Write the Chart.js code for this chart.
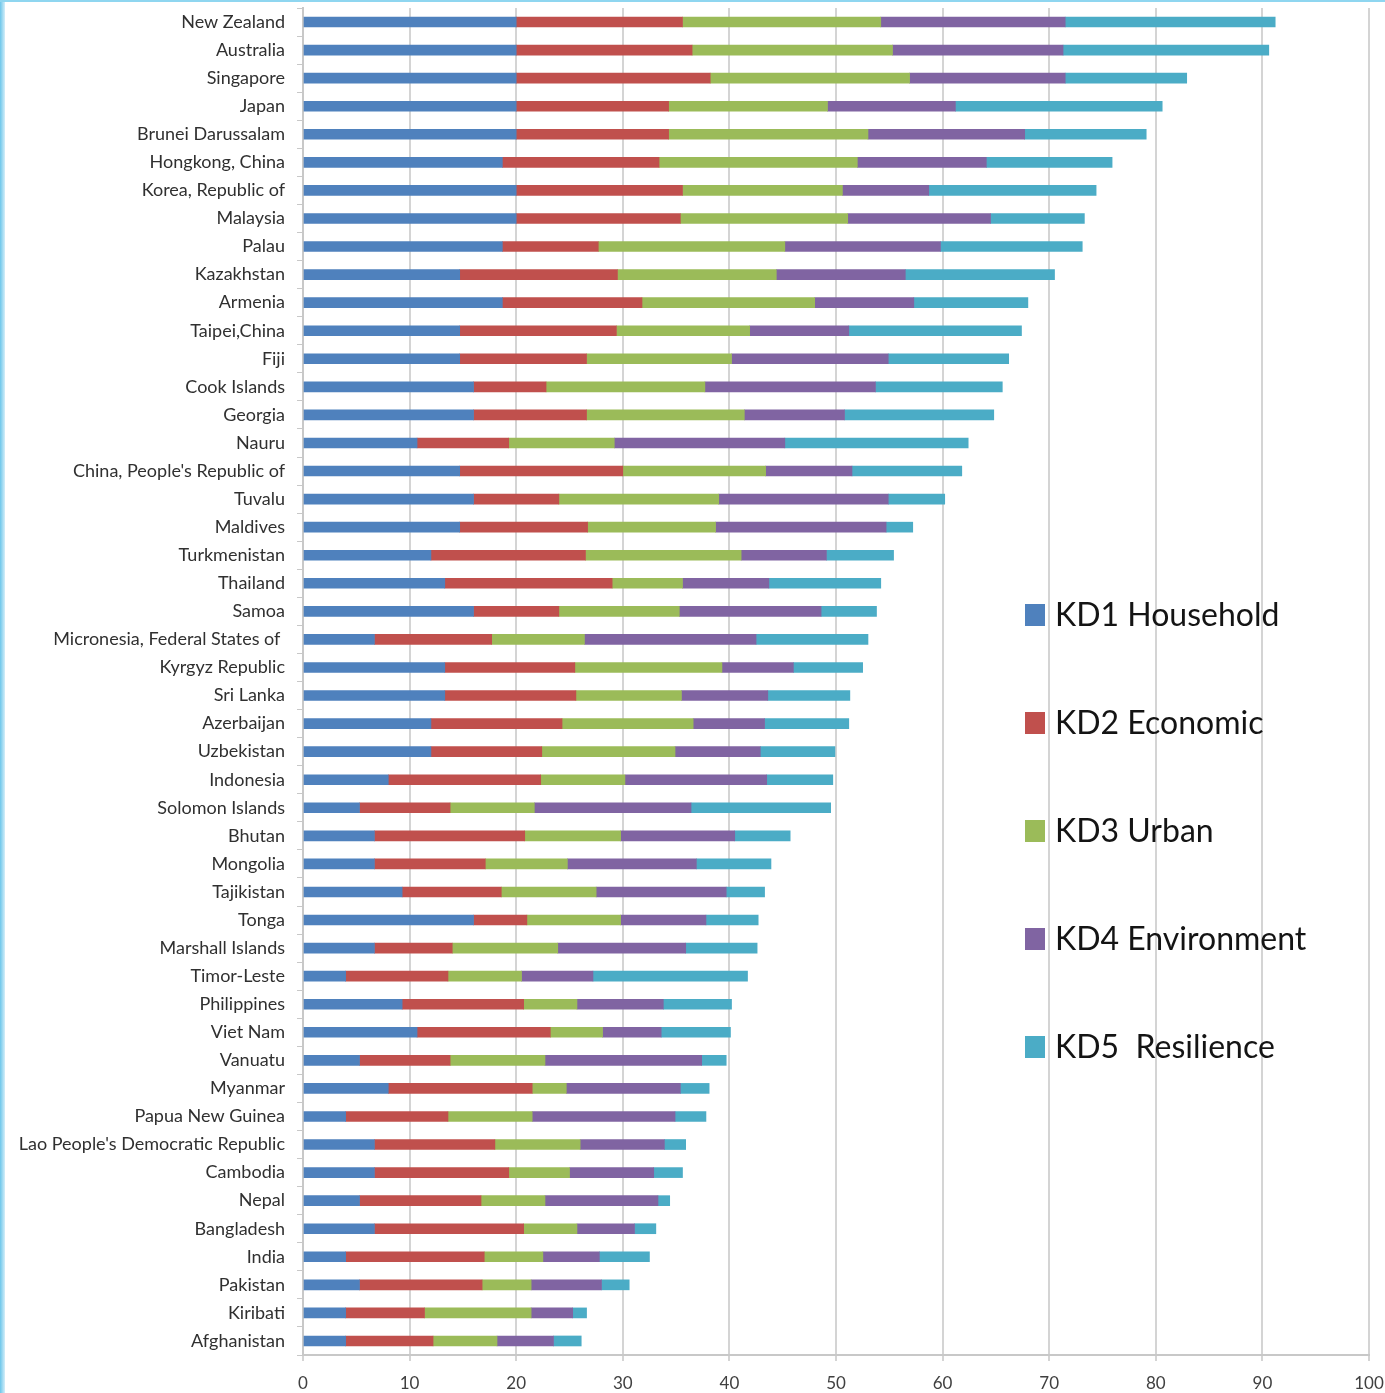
<!DOCTYPE html>
<html>
<head>
<meta charset="utf-8">
<script src="https://cdn.jsdelivr.net/npm/chart.js@4.4.1/dist/chart.umd.min.js"></script>
<style>
  html, body { margin:0; padding:0; background:#fff; }
  #wrap { position:relative; width:1385px; height:1393px; overflow:hidden; }
  #wrap:before { content:''; position:absolute; left:0; top:0; bottom:0; width:5px;
    background:linear-gradient(to right, #6cc6ea, #d4eef9); z-index:2; }
  #wrap:after { content:''; position:absolute; left:0; top:0; right:0; height:2px; background:#8fd6f0; z-index:2; }
  canvas { display:block; }
</style>
</head>
<body>
<div id="wrap"><canvas id="chart" width="1385" height="1393"></canvas></div>
<script>
const countries = ['New Zealand','Australia','Singapore','Japan','Brunei Darussalam','Hongkong, China',
  'Korea, Republic of','Malaysia','Palau','Kazakhstan','Armenia','Taipei,China','Fiji','Cook Islands',
  'Georgia','Nauru',"China, People's Republic of",'Tuvalu','Maldives','Turkmenistan','Thailand','Samoa',
  'Micronesia, Federal States of ','Kyrgyz Republic','Sri Lanka','Azerbaijan','Uzbekistan','Indonesia',
  'Solomon Islands','Bhutan','Mongolia','Tajikistan','Tonga','Marshall Islands','Timor-Leste','Philippines',
  'Viet Nam','Vanuatu','Myanmar','Papua New Guinea',"Lao People's Democratic Republic",'Cambodia','Nepal',
  'Bangladesh','India','Pakistan','Kiribati','Afghanistan'];

const kd1 = [20,20,20,20,20,18.7,20,20,18.7,14.7,18.7,14.7,14.7,16,16,10.7,14.7,16,14.7,12,13.3,16,
  6.7,13.3,13.3,12,12,8,5.3,6.7,6.7,9.3,16,6.7,4,9.3,10.7,5.3,8,4,6.7,6.7,5.3,6.7,4,5.3,4,4];
const kd2 = [15.6,16.5,18.2,14.3,14.3,14.7,15.6,15.4,9,14.8,13.1,14.7,11.9,6.8,10.6,8.6,15.3,8,12,14.5,15.7,8,
  11,12.2,12.3,12.3,10.4,14.3,8.5,14.1,10.4,9.3,5,7.3,9.6,11.4,12.5,8.5,13.5,9.6,11.3,12.6,11.4,14,13,11.5,7.4,8.2];
const kd3 = [18.6,18.8,18.7,14.9,18.7,18.6,15,15.7,17.5,14.9,16.2,12.5,13.6,14.9,14.8,9.9,13.4,15,12,14.6,6.6,11.3,
  8.7,13.8,9.9,12.3,12.5,7.9,7.9,9,7.7,8.9,8.8,9.9,6.9,5,4.9,8.9,3.2,7.9,8,5.7,6,5,5.5,4.6,10,6];
const kd4 = [17.3,16,14.6,12,14.7,12.1,8.1,13.4,14.6,12.1,9.3,9.3,14.7,16,9.4,16,8.1,15.9,16,8,8.1,13.3,
  16.1,6.7,8.1,6.7,8,13.3,14.7,10.7,12.1,12.2,8,12,6.7,8.1,5.5,14.7,10.7,13.4,7.9,7.9,10.6,5.4,5.3,6.6,3.9,5.3];
const kd5 = [19.7,19.3,11.4,19.4,11.4,11.8,15.7,8.8,13.3,14,10.7,16.2,11.3,11.9,14,17.2,10.3,5.3,2.5,6.3,10.5,5.2,
  10.5,6.5,7.7,7.9,7,6.2,13.1,5.2,7,3.6,4.9,6.7,14.5,6.4,6.5,2.3,2.7,2.9,2,2.7,1.1,2,4.7,2.6,1.3,2.6];

const seriesNames = ['KD1 Household','KD2 Economic','KD3 Urban','KD4 Environment','KD5  Resilience'];
const seriesColors = ['#4F81BD','#C0504D','#9BBB59','#8064A2','#4BACC6'];
const xTicks = [0,10,20,30,40,50,60,70,80,90,100];

const FONT = 'Lato, "Open Sans", sans-serif';

// legend inside the plot, right side
const sideLegend = {
  id: 'sideLegend',
  afterDraw(chart) {
    const ctx = chart.ctx;
    ctx.save();
    ctx.font = '32px ' + FONT;
    ctx.textBaseline = 'middle';
    chart.data.datasets.forEach((ds, i) => {
      const y = 615 + i * 108;
      ctx.fillStyle = ds.backgroundColor;
      ctx.fillRect(1025, y - 11, 20, 22);
      ctx.fillStyle = '#141414';
      ctx.fillText(ds.label, 1055, y + 1);
    });
    ctx.restore();
  }
};

const series = [kd1, kd2, kd3, kd4, kd5];

new Chart(document.getElementById('chart'), {
  type: 'bar',
  data: {
    labels: countries,
    datasets: series.map((d, i) => ({
      label: seriesNames[i],
      data: d,
      backgroundColor: seriesColors[i],
      barThickness: 10
    }))
  },
  options: {
    indexAxis: 'y',
    responsive: false,
    animation: false,
    layout: { padding: { top: 8, left: 0, right: 16, bottom: 0 } },
    plugins: { legend: { display: false }, tooltip: { enabled: false } },
    scales: {
      x: {
        stacked: true,
        min: 0, max: 100,
        afterBuildTicks: s => { s.ticks = xTicks.map(v => ({ value: v })); },
        ticks: { font: { family: FONT, size: 17 }, color: '#404040', padding: 12, maxRotation: 0 },
        grid: { color: '#d4d4d4', lineWidth: 2, tickLength: 6 },
        border: { color: '#c8c8c8', width: 2 },
        afterFit: s => { s.height = 38; s.paddingLeft = 0; s.paddingRight = 0; }
      },
      y: {
        stacked: true,
        ticks: { font: { family: FONT, size: 18 }, color: '#303030', padding: 12, autoSkip: false },
        grid: { drawOnChartArea: false, color: '#c8c8c8', tickLength: 6 },
        border: { color: '#c8c8c8', width: 2 },
        afterFit: s => { s.width = 303; s.paddingTop = 0; s.paddingBottom = 0; }
      }
    }
  },
  plugins: [sideLegend]
});
</script>
</body>
</html>
